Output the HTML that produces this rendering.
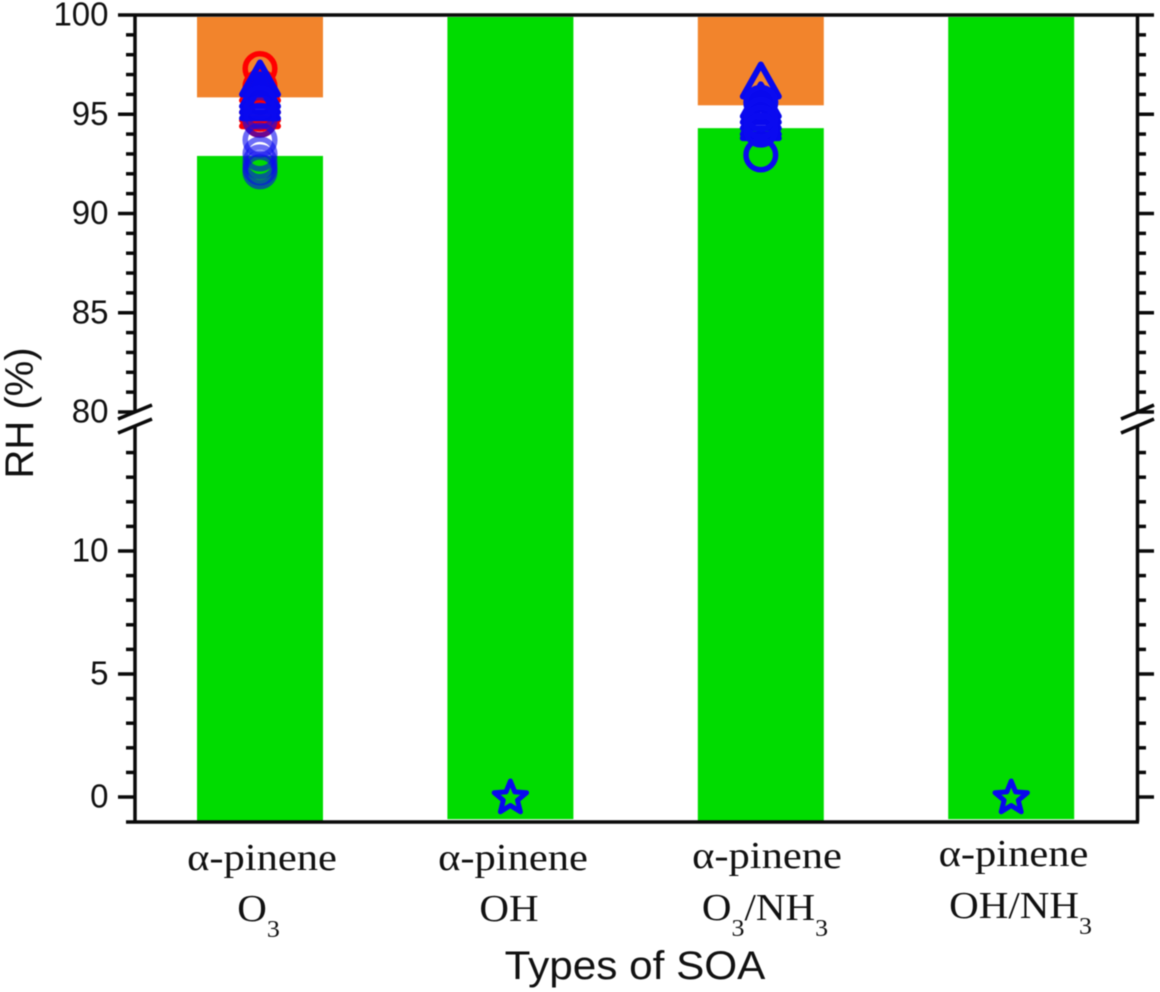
<!DOCTYPE html>
<html lang="en">
<head>
<meta charset="utf-8">
<title>RH by type of SOA</title>
<style>
html,body{margin:0;padding:0;background:#fff;width:1160px;height:992px;overflow:hidden}
svg{display:block;filter:blur(0.45px)}
text{fill:#111}
.sans{font-family:"Liberation Sans",sans-serif}
.serif{font-family:"Liberation Serif",serif}
</style>
</head>
<body>
<svg id="chart" xmlns="http://www.w3.org/2000/svg" width="1160" height="992" viewBox="0 0 1160 992"></svg>
<script>
const categories = ["O3", "OH", "O3/NH3", "OH/NH3"];
const greenBase = [-1, -0.9, -1, -0.9];
const greenTop = [92.9, 99.9, 94.3, 99.9];
const orangeBase = [95.85, null, 95.45, null];
const orangeTop = [99.9, null, 99.9, null];
const redCircles = [[97.3, 96.4, 95.8, 95.3, 95.0, 94.7], [], [], []];
const redTriangles = [[96.3, 95.7, 95.3, 95.0], [], [], []];
const blueTriangles = [[96.6, 96.0, 95.7, 95.4], [], [96.5, 95.5, 95.2, 94.9, 94.6, 94.4], []];
const blueCircles = [[95.6, 95.1, 94.7, 93.7, 93.0, 92.6, 92.3, 92.1], [], [95.6, 95.0, 94.6, 94.2, 92.95], []];
const stars = [[], [0], [], [0]];
const upperMajor = [100, 95, 90, 85, 80];
const lowerMajor = [10, 5, 0];
const upperMinor = [99, 98, 97, 96, 94, 93, 92, 91, 89, 88, 87, 86, 84, 83, 82, 81];
const lowerMinor = [14, 13, 12, 11, 9, 8, 7, 6, 4, 3, 2, 1, -1];

const NS = "http://www.w3.org/2000/svg";
const svg = document.getElementById("chart");
function yScale(v) { return v >= 80 ? 15 + (100 - v) * 19.85 : 797 - v * 24.6; }
function xScale(i) { return 260 + i * 250.4; }
function make(tag, attrs, parent) {
  const el = document.createElementNS(NS, tag);
  for (const k in attrs) el.setAttribute(k, attrs[k]);
  (parent || svg).appendChild(el);
  return el;
}
const barW = 126;

categories.forEach(function (c, i) {
  const x = xScale(i) - barW / 2;
  const g = make("rect", { x: x, y: yScale(greenTop[i]), width: barW, height: yScale(greenBase[i]) - yScale(greenTop[i]), fill: "#00dc00" });
  
  
  if (orangeTop[i] !== null) {
    const o = make("rect", { x: x, y: yScale(orangeTop[i]), width: barW, height: yScale(orangeBase[i]) - yScale(orangeTop[i]), fill: "#f2842c" });
    
    
  }
});

function line(x1, y1, x2, y2, w, name) {
  const l = make("line", { x1: x1, y1: y1, x2: x2, y2: y2, stroke: "#0a0a0a", "stroke-width": w });
  
  
  return l;
}
const LX = 135, RX = 1137.5, TOPY = 15, BOTY = 822;
line(118, TOPY, 1154, TOPY, 3.5, "top-axis-line");
line(126, BOTY, RX + 1.5, BOTY, 3.5, "x-axis-line");
[LX, RX].forEach(function (ax) {
  line(ax, TOPY, ax, 412, 3.5, "y-axis-upper-line");
  line(ax, 427, ax, BOTY, 3.5, "y-axis-lower-line");
});
upperMajor.concat(lowerMajor).forEach(function (v) {
  if (v !== 100) line(118, yScale(v), LX, yScale(v), 3.5, "left-major-tick");
  if (v !== 100) line(RX, yScale(v), 1154, yScale(v), 3.5, "right-major-tick");
  const t = make("text", { x: 108.5, y: yScale(v) + 10.5, "text-anchor": "end", "font-size": 33, class: "sans" });
  t.textContent = String(v);
  
  
});
upperMinor.concat(lowerMinor).forEach(function (v) {
  if (v !== -1) line(126, yScale(v), LX, yScale(v), 3.5, "left-minor-tick");
  if (v !== -1) line(RX, yScale(v), 1146, yScale(v), 3.5, "right-minor-tick");
});
[[118, 152], [1121, 1154]].forEach(function (p) {
  line(p[0], 419, p[1], 405, 3.5, "axis-break-mark");
  line(p[0], 433, p[1], 419, 3.5, "axis-break-mark");
});

function circle(i, v, color, op) {
  const el = make("circle", { cx: xScale(i), cy: yScale(v), r: 14.8, fill: "none", stroke: color, "stroke-width": 5.5, "stroke-opacity": op });
  
  
}
function triangle(i, v, color) {
  const x = xScale(i), y = yScale(v);
  const el = make("polygon", { points: (x) + "," + (y - 20) + " " + (x + 18) + "," + (y + 12) + " " + (x - 18) + "," + (y + 12), fill: "none", stroke: color, "stroke-width": 6, "stroke-linejoin": "round" });
  
  
}
function star(i, v) {
  const x = xScale(i), y = yScale(v) + 1;
  const pts = [];
  for (let k = 0; k < 10; k++) {
    const r = k % 2 ? 7.5 : 17, a = -Math.PI / 2 + k * Math.PI / 5;
    pts.push((x + r * Math.cos(a)).toFixed(1) + "," + (y + r * Math.sin(a)).toFixed(1));
  }
  const el = make("polygon", { points: pts.join(" "), fill: "none", stroke: "#0808ee", "stroke-width": 5, "stroke-linejoin": "round" });
  
  
}
categories.forEach(function (c, i) {
  redCircles[i].forEach(function (v) { circle(i, v, "#ff0000", 1); });
  redTriangles[i].forEach(function (v) { triangle(i, v, "#ff0000"); });
  blueTriangles[i].forEach(function (v) { triangle(i, v, "#0808ee"); });
  blueCircles[i].forEach(function (v) { circle(i, v, "#0a0af0", i === 0 ? 0.6 : 1); });
  stars[i].forEach(function (v) { star(i, v); });
});

const firstLineY = [870, 870, 868, 866];
const secondLineY = [921, 921, 920, 918];
const firstLineX = [262, 513, 767, 1013.5];
const secondLineX = [258.5, 509, 765, 1020.5];
categories.forEach(function (c, i) {
  const a = make("text", { transform: "translate(" + firstLineX[i] + "," + firstLineY[i] + ") scale(1.12,1)", "text-anchor": "middle", "font-size": 38, class: "serif" });
  a.textContent = "\u03b1-pinene";
  
  
  const b = make("text", { transform: "translate(" + secondLineX[i] + "," + secondLineY[i] + ") scale(1.08,1)", "text-anchor": "middle", "font-size": 38, class: "serif" });
  
  
  c.split(/(3)/).forEach(function (part) {
    if (!part) return;
    const isSub = part === "3";
    const s = make("tspan", isSub ? { "font-size": 24, dy: 16 } : { dy: b.childNodes.length ? -16 : 0 }, b);
    s.textContent = part;
  });
});
</script>
<script>
(function () {
  const s = document.getElementById("chart");
  const ns = "http://www.w3.org/2000/svg";
  const xt = document.createElementNS(ns, "text");
  xt.setAttribute("transform", "translate(635,979) scale(1.057,1)");
  xt.setAttribute("text-anchor", "middle");
  xt.setAttribute("font-size", "40");
  xt.setAttribute("class", "sans");
  xt.textContent = "Types of SOA";
  
  
  s.appendChild(xt);
  const yt = document.createElementNS(ns, "text");
  yt.setAttribute("transform", "translate(33,413) rotate(-90)");
  yt.setAttribute("text-anchor", "middle");
  yt.setAttribute("font-size", "40");
  yt.setAttribute("class", "sans");
  yt.textContent = "RH (%)";
  
  
  s.appendChild(yt);
})();
</script>
</body>
</html>
